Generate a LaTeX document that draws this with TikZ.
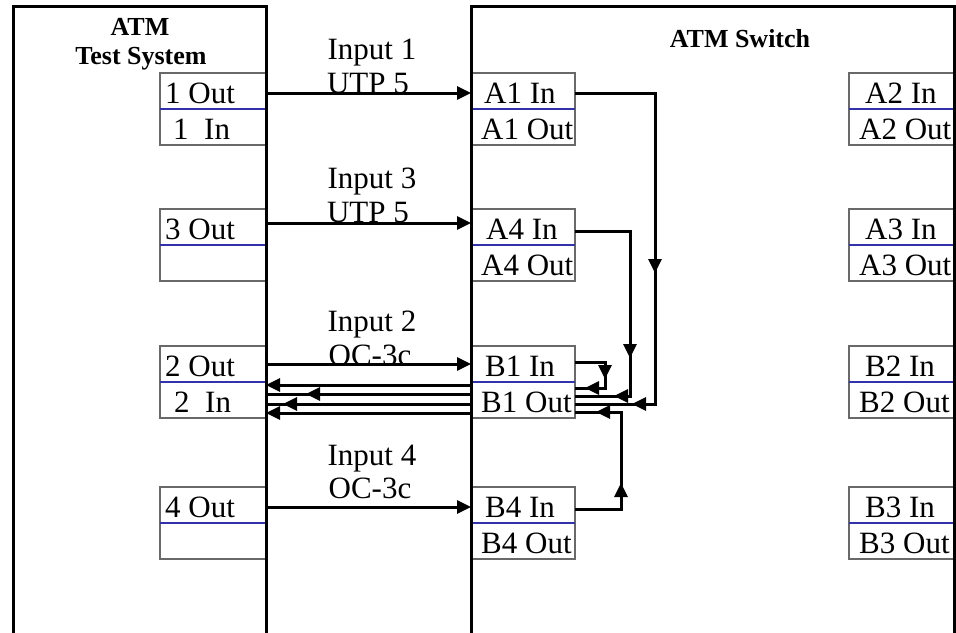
\documentclass[tikz,border=0pt]{standalone}
\usepackage{fontspec}
\setmainfont{Liberation Serif}
\usetikzlibrary{arrows.meta}
\definecolor{cellgray}{RGB}{105,105,105}
\definecolor{divblue}{RGB}{50,50,170}
\begin{document}
\begin{tikzpicture}[x=1pt,y=-1pt,
 bigbox/.style={draw=black,line width=3pt},
 cellbox/.style={draw=cellgray,line width=1.1pt},
 divline/.style={draw=divblue,line width=1.1pt},
 wire/.style={draw=black,line width=3pt},
 tipped/.style={wire,-{Triangle[length=14pt,width=13pt]}},
 port/.style={font=\fontsize{31}{34}\selectfont,inner sep=0pt,anchor=base west},
 medium/.style={font=\fontsize{31}{34}\selectfont,inner sep=0pt,anchor=base},
 ttl/.style={font=\fontsize{26}{30}\selectfont\bfseries,inner sep=0pt,anchor=base}]
\useasboundingbox (0,0) rectangle (956,632);
\clip (0,0) rectangle (956,632);
% port cells
\foreach \t in {73,209,346,487}{
  \draw[cellbox] (160,\t) rectangle (266,\t+72);
  \draw[divline] (160,\t+36) -- (266,\t+36);
  \draw[cellbox] (471,\t) rectangle (575,\t+72);
  \draw[divline] (471,\t+36) -- (575,\t+36);
  \draw[cellbox] (849,\t) rectangle (954,\t+72);
  \draw[divline] (849,\t+36) -- (954,\t+36);
}
% main boxes
\draw[bigbox] (13,6) rectangle (266,660);
\draw[bigbox] (471,6) rectangle (954,660);
% titles
\node[ttl] (t1) at (140,35) {ATM};
\node[ttl] (t2) at (141,64) {Test System};
\node[ttl] (t3) at (740,47) {ATM Switch};
% tester ports
\node[port] (o1) at (165,103) {1 Out};
\node[port] (i1) at (173,139) {1\ \ In};
\node[port] (o3) at (165,239) {3 Out};
\node[port] (o2) at (165,376) {2 Out};
\node[port] (i2) at (174,412) {2\ \ In};
\node[port] (o4) at (165,517) {4 Out};
% switch ports left column
\node[port] (a1i) at (484,103) {A1 In};
\node[port] (a1o) at (481,139) {A1 Out};
\node[port] (a4i) at (486,239) {A4 In};
\node[port] (a4o) at (481,275) {A4 Out};
\node[port] (b1i) at (485,376) {B1 In};
\node[port] (b1o) at (481,412) {B1 Out};
\node[port] (b4i) at (485,517) {B4 In};
\node[port] (b4o) at (481,553) {B4 Out};
% switch ports right column
\node[port] (a2i) at (865,103) {A2 In};
\node[port] (a2o) at (859,139) {A2 Out};
\node[port] (a3i) at (865,239) {A3 In};
\node[port] (a3o) at (859,275) {A3 Out};
\node[port] (b2i) at (865,376) {B2 In};
\node[port] (b2o) at (859,412) {B2 Out};
\node[port] (b3i) at (865,517) {B3 In};
\node[port] (b3o) at (859,553) {B3 Out};
% link labels
\node[medium] (l1a) at (372,59) {Input 1};
\node[medium] (l1b) at (368,93) {UTP 5};
\node[medium] (l3a) at (372,188) {Input 3};
\node[medium] (l3b) at (368,222) {UTP 5};
\node[medium] (l2a) at (372,331) {Input 2};
\node[medium] (l2b) at (370,365) {OC-3c};
\node[medium] (l4a) at (372,465) {Input 4};
\node[medium] (l4b) at (370,498) {OC-3c};
% input links
\coordinate (s1) at (266,93);  \coordinate (e1) at (471,93);
\coordinate (s3) at (266,223); \coordinate (e3) at (471,223);
\coordinate (s2) at (266,364); \coordinate (e2) at (471,364);
\coordinate (s4) at (266,507); \coordinate (e4) at (471,507);
\draw[tipped] (s1) -- (e1);
\draw[tipped] (s3) -- (e3);
\draw[tipped] (s2) -- (e2);
\draw[tipped] (s4) -- (e4);
% loop-back routes inside the switch
\coordinate (a1r) at (575,93);  \coordinate (a1c) at (655,93);  \coordinate (a1d) at (655,404); \coordinate (a1e) at (575,404);
\draw[wire] (a1r) -- (a1c) -- (a1d) -- (a1e);
\draw[tipped] (655,230) -- (655,273);
\draw[tipped] (650,404) -- (632,404);
\coordinate (a4r) at (575,231); \coordinate (a4c) at (630,231); \coordinate (a4d) at (630,396); \coordinate (a4e) at (575,396);
\draw[wire] (a4r) -- (a4c) -- (a4d) -- (a4e);
\draw[tipped] (630,330) -- (630,358);
\draw[tipped] (628,396) -- (614,396);
\coordinate (b1r) at (575,362); \coordinate (b1c) at (605,362); \coordinate (b1d) at (605,388); \coordinate (b1e) at (575,388);
\draw[wire] (b1r) -- (b1c) -- (b1d) -- (b1e);
\draw[tipped] (605,364) -- (605,379);
\draw[tipped] (603,388) -- (585,388);
\coordinate (b4r) at (575,509); \coordinate (b4c) at (621,509); \coordinate (b4d) at (621,412); \coordinate (b4e) at (575,412);
\draw[wire] (b4r) -- (b4c) -- (b4d) -- (b4e);
\draw[tipped] (621,500) -- (621,483);
\draw[tipped] (619,412) -- (596,412);
% return links to tester
\coordinate (r1s) at (471,385); \coordinate (r1e) at (266,385);
\coordinate (r2s) at (471,394); \coordinate (r2e) at (266,394);
\coordinate (r3s) at (471,404); \coordinate (r3e) at (266,404);
\coordinate (r4s) at (471,413); \coordinate (r4e) at (266,413);
\draw[tipped] (r1s) -- (r1e);
\draw[wire] (r2s) -- (r2e);
\draw[tipped] (r2s) -- (306,394);
\draw[wire] (r3s) -- (r3e);
\draw[tipped] (r3s) -- (283,404);
\draw[tipped] (r4s) -- (r4e);
\end{tikzpicture}
\end{document}
